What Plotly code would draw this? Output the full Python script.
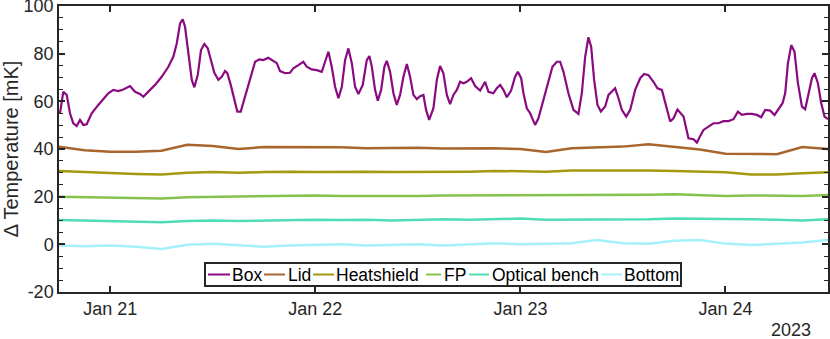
import pandas as pd
import plotly.graph_objects as go

# ---- data (hours since 2023-01-20 18:00, values in mK) ----
START = "2023-01-20 18:00"

box_hours = [0.12, 0.50, 0.90, 1.29, 1.67, 2.07, 2.46, 2.84, 3.24, 3.83, 4.60, 5.19, 5.77, 6.36, 6.94,
             7.53, 8.31, 8.90, 9.48, 9.87, 10.45, 11.24, 12.02, 12.80, 13.38, 13.78, 14.17, 14.48, 14.75,
             15.14, 15.54, 15.84, 16.24, 16.62, 17.01, 17.41, 17.79, 18.18, 18.65, 19.05, 19.43, 19.70,
             20.10, 20.49, 20.87, 21.27, 21.66, 22.16, 22.56, 22.95, 23.45, 23.92, 24.50, 25.09, 25.49,
             25.87, 26.46, 27.04, 27.43, 28.01, 28.60, 29.00, 29.58, 30.17, 30.75, 31.14, 31.53, 31.92,
             32.31, 32.70, 33.10, 33.48, 33.87, 34.27, 34.65, 35.04, 35.55, 36.02, 36.33, 36.61, 36.99,
             37.31, 37.70, 38.08, 38.36, 38.75, 39.14, 39.53, 39.92, 40.31, 40.71, 41.09, 41.48, 41.88,
             42.26, 42.65, 42.96, 43.32, 43.82, 44.22, 44.60, 44.99, 45.39, 45.77, 46.16, 46.56, 46.94,
             47.33, 47.73, 48.23, 48.70, 49.29, 49.87, 50.26, 50.84, 51.24, 51.63, 52.01, 52.41, 52.91,
             53.38, 53.70, 54.09, 54.36, 54.75, 55.14, 55.72, 56.11, 56.70, 57.28, 57.75, 58.27, 58.65,
             59.04, 59.62, 60.21, 60.79, 61.19, 61.58, 61.96, 62.28, 62.63, 63.02, 63.42, 63.92, 64.31,
             64.70, 65.09, 65.48, 65.87, 66.38, 66.85, 67.43, 68.02, 68.49, 68.99, 69.57, 70.04, 70.56,
             70.94, 71.53, 71.92, 72.38, 73.09, 73.67, 74.26, 74.66, 75.04, 75.43, 76.01, 76.60, 77.18,
             77.77, 78.35, 78.94, 79.45, 79.92, 80.51, 81.09, 81.68, 82.18, 82.65, 83.24, 83.74, 84.21,
             84.68, 84.99, 85.31, 85.70, 86.08, 86.48, 86.95, 87.33, 87.72, 88.12, 88.42, 88.82, 89.21,
             89.59, 90.0]
box_vals = [55.0, 64.0, 62.7, 55.0, 50.8, 49.6, 52.2, 50.1, 50.4, 55.0, 58.5, 60.9, 63.4, 64.8, 64.3,
            65.0, 66.4, 64.0, 63.1, 61.9, 64.0, 66.9, 70.3, 74.5, 78.7, 84.3, 92.7, 94.4, 91.3,
            80.2, 69.0, 65.9, 71.0, 81.5, 84.1, 82.3, 76.6, 72.0, 69.0, 70.3, 72.7, 71.8,
            66.9, 60.6, 55.7, 55.7, 60.6, 67.6, 72.4, 76.6, 77.6, 77.3, 78.3, 77.0, 76.0,
            72.7, 71.8, 72.0, 73.9, 75.2, 76.6, 74.5, 73.4, 73.1, 72.4, 76.6, 80.8, 74.5,
            66.1, 61.3, 66.1, 77.3, 82.2, 76.0, 66.1, 63.1, 66.9, 77.3, 79.0, 74.5, 64.8,
            60.3, 64.8, 74.5, 77.0, 72.4, 63.4, 58.5, 62.7, 70.3, 75.7, 70.3, 62.7, 60.9,
            62.2, 62.7, 56.4, 52.2, 57.1, 69.0, 74.8, 71.8, 62.7, 58.8, 62.7, 64.8, 68.2,
            67.6, 68.2, 69.7, 66.4, 64.5, 68.2, 64.0, 63.4, 65.5, 66.9, 64.8, 61.7, 64.5,
            70.3, 72.4, 69.7, 63.4, 57.1, 55.0, 50.1, 52.9, 60.6, 69.0, 74.5, 76.6, 76.6,
            72.4, 63.4, 56.4, 54.7, 63.4, 78.7, 86.9, 82.9, 69.0, 58.5, 55.7, 57.8, 62.7,
            64.0, 65.5, 61.3, 56.4, 53.6, 56.4, 64.8, 69.7, 71.5, 71.0, 68.2, 65.5, 64.8,
            59.9, 51.5, 52.9, 56.6, 53.6, 44.5, 44.1, 42.7, 45.5, 48.0, 49.4, 50.8, 50.8,
            51.7, 51.7, 52.5, 55.7, 54.3, 54.7, 54.7, 54.3, 53.3, 56.4, 56.1, 54.3, 56.7,
            59.2, 63.4, 76.0, 83.6, 80.8, 67.6, 57.8, 56.7, 63.4, 69.7, 71.8, 67.6, 59.2,
            53.6, 52.5]

flat_hours = [0, 3, 6, 9, 12, 15, 18, 21, 24, 27, 30, 33, 36, 39, 42, 45, 48, 51, 54, 57, 60,
              63, 66, 69, 72, 75, 78, 81, 84, 87, 90]
lid_vals = [41.0, 39.5, 38.8, 38.8, 39.3, 41.8, 41.3, 40.0, 40.8, 40.8, 41.0, 40.7, 40.3, 40.5, 40.5,
            40.2, 40.3, 40.3, 40.0, 38.7, 40.3, 40.5, 41.0, 42.0, 40.8, 39.8, 38.0, 37.9, 37.8, 40.8, 40.0]
heatshield_vals = [30.8, 30.3, 29.8, 29.5, 29.3, 30.0, 30.3, 30.0, 30.3, 30.5, 30.3, 30.5, 30.5, 30.3,
                   30.3, 30.5, 30.5, 30.8, 30.8, 30.5, 31.0, 31.0, 31.2, 31.0, 30.8, 30.5, 30.2, 29.3,
                   29.3, 29.8, 30.2]
fp_vals = [20.0, 19.8, 19.6, 19.3, 19.2, 19.8, 20.0, 20.0, 20.3, 20.3, 20.5, 20.3, 20.3, 20.0, 20.3,
           20.5, 20.5, 20.8, 20.8, 20.5, 20.8, 20.8, 20.5, 20.8, 21.0, 20.5, 20.3, 20.5, 20.3, 20.3, 20.7]
optical_vals = [10.2, 9.9, 9.6, 9.5, 9.3, 9.8, 10.0, 9.8, 10.0, 10.2, 10.3, 10.2, 10.3, 10.0, 10.3,
                10.5, 10.3, 10.5, 10.8, 10.3, 10.3, 10.5, 10.5, 10.5, 10.8, 10.8, 10.5, 10.5, 10.3,
                10.0, 10.5]
bottom_vals = [-0.5, -0.8, -0.5, -1.0, -2.0, -0.2, 0.2, -0.5, -1.0, -0.5, -0.3, 0.0, -0.5, -0.2, 0.0,
               -0.5, 0.0, 0.5, 0.0, 0.2, 0.5, 1.8, 0.5, 0.2, 1.5, 1.8, 0.3, -0.3, 0.3, 0.8, 1.8]

series_names = ["Box", "Lid", "Heatshield", "FP", "Optical bench", "Bottom"]
series_colors = ["#8A0A80", "#A8652E", "#A39A12", "#86C24E", "#4FDDB6", "#A6F0FA"]
series_widths = [2.2, 2.5, 2.5, 2.5, 2.5, 2.5]

y_ticks = [-20, 0, 20, 40, 60, 80, 100]
y_ticklabels = ["-20", "0", "20", "40", "60", "80", "100"]
x_ticks = ["2023-01-21", "2023-01-22", "2023-01-23", "2023-01-24"]
x_ticklabels = ["Jan 21", "Jan 22", "Jan 23", "Jan 24"]
x_range = ["2023-01-20 18:00", "2023-01-24 12:00"]
year_label = "2023"

# ---- layout geometry (pixels) ----
W, H = 830, 339
ML, MR, MT, MB = 59, 2, 6, 47
PW, PH = W - ML - MR, H - MT - MB


def px_x(px):
    return (px - ML) / PW


def px_y(py):
    return (H - MB - py) / PH


def to_time(hours):
    return pd.Timestamp(START) + pd.to_timedelta(hours, unit="h")


fig = go.Figure()
all_data = [
    (box_hours, box_vals),
    (flat_hours, lid_vals),
    (flat_hours, heatshield_vals),
    (flat_hours, fp_vals),
    (flat_hours, optical_vals),
    (flat_hours, bottom_vals),
]
for (hrs, vals), name, col, lw in zip(all_data, series_names, series_colors, series_widths):
    fig.add_trace(go.Scatter(x=to_time(hrs), y=vals, mode="lines", name=name,
                             line=dict(color=col, width=lw), showlegend=False))

font_family = "Liberation Sans, Arial, sans-serif"
axis_col = "#262626"
fig.update_layout(
    width=W, height=H,
    margin=dict(l=ML, r=MR, t=MT, b=MB, autoexpand=False),
    paper_bgcolor="white", plot_bgcolor="white",
    font=dict(family=font_family, size=18, color=axis_col),
    showlegend=False,
    xaxis=dict(type="date", range=x_range, tickmode="array", tickvals=x_ticks,
               ticktext=x_ticklabels, ticks="inside", ticklen=6, tickwidth=1.5,
               tickcolor=axis_col, showline=True, linecolor=axis_col, linewidth=1.5,
               mirror="allticks", showgrid=False, zeroline=False, automargin=False,
               tickfont=dict(size=18), ticklabeloverflow="allow"),
    yaxis=dict(range=[-20, 100], tickmode="array", tickvals=y_ticks, ticktext=y_ticklabels,
               ticks="inside", ticklen=6, tickwidth=1.5, tickcolor=axis_col, showline=True,
               linecolor=axis_col, linewidth=1.5, mirror="allticks", showgrid=False,
               zeroline=False, automargin=False, tickfont=dict(size=18),
               ticklabeloverflow="allow",
               title=dict(text="Δ Temperature [mK]", font=dict(size=20), standoff=4),
               minor=dict(dtick=5, ticks="inside", ticklen=4, tickwidth=1.2, tickcolor=axis_col,
                          showgrid=False)),
)

# ---- MATLAB-style legend box ----
leg_x0, leg_x1, leg_y0, leg_y1 = 205, 681, 263, 286
leg_yc = 274.5
fig.add_shape(type="rect", xref="paper", yref="paper",
              x0=px_x(leg_x0), x1=px_x(leg_x1), y0=px_y(leg_y1), y1=px_y(leg_y0),
              line=dict(color=axis_col, width=2), fillcolor="white", layer="above")
leg_line_px = [(208, 230), (264, 285), (313, 334), (426, 441), (469, 489), (601, 622)]
leg_text_px = [231, 287, 335, 443, 491, 623]
for (a, b), tx, name, col in zip(leg_line_px, leg_text_px, series_names, series_colors):
    fig.add_shape(type="line", xref="paper", yref="paper", x0=px_x(a), x1=px_x(b),
                  y0=px_y(leg_yc), y1=px_y(leg_yc), line=dict(color=col, width=2), layer="above")
    fig.add_annotation(text=name, xref="paper", yref="paper", x=px_x(tx), y=px_y(leg_yc),
                       xanchor="left", yanchor="middle", showarrow=False, borderpad=0,
                       font=dict(size=17.5, color="#000000"))

fig.add_annotation(text=year_label, xref="paper", yref="paper", x=px_x(791), y=px_y(330),
                   xanchor="center", yanchor="middle", showarrow=False, borderpad=0,
                   font=dict(size=18, color=axis_col))

# remove the browser's default 8px body margin so the figure sits at the page origin
fig.write_html("out.html", config={"displayModeBar": False},
               post_script="document.body.style.margin='0';")
